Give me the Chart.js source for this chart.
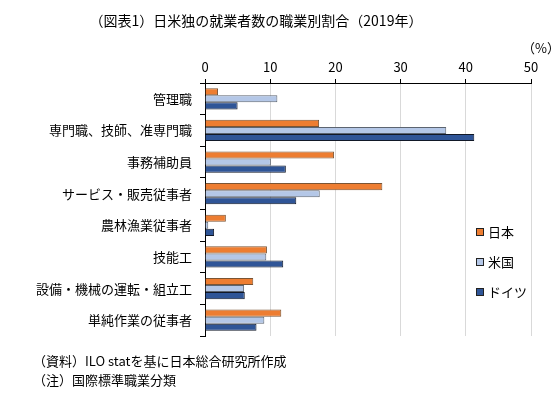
<!DOCTYPE html>
<html>
<head>
<meta charset="utf-8">
<script src="https://cdn.jsdelivr.net/npm/chart.js@4"></script>
<style>
  body { margin: 0; background: #fff; }
  #wrap { position: relative; width: 558px; height: 393px; font-family: "Noto Sans CJK JP", sans-serif; color: #000; }
  #wrap canvas { position: absolute; left: 0; top: 0; }
  .txt { position: absolute; white-space: nowrap; line-height: 1; }
  #title { left: 0; width: 512px; top: 13px; text-align: center; font-size: 14px; }
  #unit { left: 522px; top: 41px; font-size: 13px; }
  #note1 { left: 33px; top: 354px; font-size: 13px; }
  #note2 { left: 33px; top: 373px; font-size: 13px; }
</style>
</head>
<body>
<div id="wrap">
  <canvas id="chart" width="558" height="393"></canvas>
  <div class="txt" id="title">（図表1）日米独の就業者数の職業別割合（2019年）</div>
  <div class="txt" id="unit">（%）</div>
  <div class="txt" id="note1">（資料）ILO statを基に日本総合研究所作成</div>
  <div class="txt" id="note2">（注）国際標準職業分類</div>
</div>
<script>
// 職業分類
const occupations = ['管理職', '専門職、技師、准専門職', '事務補助員', 'サービス・販売従事者',
    '農林漁業従事者', '技能工', '設備・機械の運転・組立工', '単純作業の従事者'];

// 各国の割合（%）
const japan = [2.0, 17.5, 19.8, 27.2, 3.2, 9.5, 7.4, 11.7];
const usa = [11.1, 37.0, 10.1, 17.6, 0.5, 9.4, 6.0, 9.1];
const germany = [5.0, 41.3, 12.4, 14.0, 1.4, 12.0, 6.1, 7.9];

const countryNames = ['日本', '米国', 'ドイツ'];
const FONT = '"Noto Sans CJK JP", sans-serif';

// 凡例を右側に描く
const legendPlugin = {
    id: 'customLegend',
    afterDraw(chart) {
        const ctx = chart.ctx;
        ctx.save();
        chart.data.datasets.forEach(function (ds, i) {
            const y = 232 + i * 30;
            ctx.fillStyle = ds.backgroundColor;
            ctx.fillRect(476.5, y - 3.5, 7, 7);
            ctx.strokeStyle = '#222';
            ctx.lineWidth = 1;
            ctx.strokeRect(476.5, y - 3.5, 7, 7);
            ctx.fillStyle = '#000';
            ctx.font = '13px ' + FONT;
            ctx.textBaseline = 'middle';
            ctx.fillText(ds.label, 488, y);
        });
        ctx.restore();
    }
};

new Chart(document.getElementById('chart').getContext('2d'), {
    type: 'bar',
    data: {
        labels: occupations,
        datasets: [
            { label: countryNames[0], data: japan, backgroundColor: '#ED7D31', borderColor: '#7a5434', borderWidth: 1 },
            { label: countryNames[1], data: usa, backgroundColor: '#B4C7E7', borderColor: '#5c6470', borderWidth: 1 },
            { label: countryNames[2], data: germany, backgroundColor: '#2F5597', borderColor: '#111827', borderWidth: 1 }
        ]
    },
    options: {
        indexAxis: 'y',
        responsive: false,
        animation: false,
        layout: { padding: { top: 0, right: 27, bottom: 57, left: 0 } },
        datasets: { bar: { categoryPercentage: 0.67, barPercentage: 1.0 } },
        plugins: {
            legend: { display: false },
            tooltip: { enabled: false }
        },
        scales: {
            x: {
                position: 'top',
                min: 0,
                max: 50,
                afterFit: function (s) { s.height = 83; },
                ticks: { stepSize: 10, color: '#000', padding: 4, font: { family: FONT, size: 13 } },
                grid: { color: '#d9d9d9', tickColor: '#000', tickLength: 4 },
                border: { color: '#000' }
            },
            y: {
                afterFit: function (s) { s.width = 205; },
                ticks: { color: '#000', padding: 8, font: { family: FONT, size: 13 } },
                grid: { drawOnChartArea: false, tickColor: '#000', tickLength: 5 },
                border: { color: '#000' }
            }
        }
    },
    plugins: [legendPlugin]
});
</script>
</body>
</html>
